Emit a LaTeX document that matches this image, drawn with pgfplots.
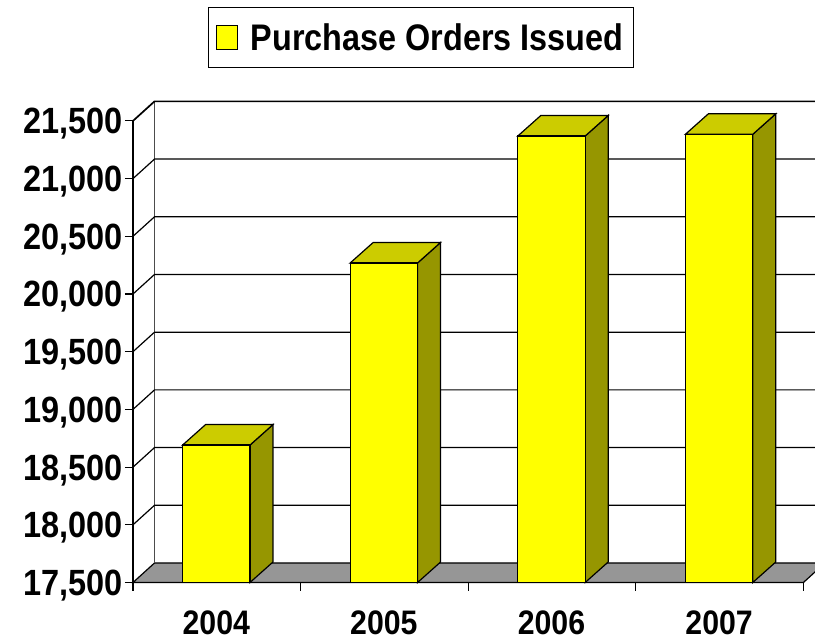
\documentclass[border=0pt]{standalone}
\usepackage{pgfplots}
\pgfplotsset{compat=1.18}
\usepackage{fontspec}
\setmainfont{Liberation Sans}
\newfontfamily\tickf[FakeStretch=0.89]{Liberation Sans}
\newfontfamily\legf[FakeStretch=0.875]{Liberation Sans}
\definecolor{barc}{HTML}{FFFF00}
\definecolor{sidec}{HTML}{969600}
\definecolor{topc}{HTML}{CCCC00}
\definecolor{floorc}{HTML}{969696}
\begin{document}
\begin{tikzpicture}[x=1pt,y=1pt]
\useasboundingbox (0,0) rectangle (815,643);
\begin{axis}[
  at={(133pt,60.5pt)}, anchor=south west,
  scale only axis, width=682pt, height=482.5pt,
  xmin=0, xmax=4.0692, ymin=17500, ymax=21681.1,
  clip=false,
  axis line style={draw=none},
  xtick pos=bottom, ytick pos=left,
  scaled y ticks=false,
  xtick={0,1,2,3,4}, xticklabels={,,,,},
  extra x ticks={0.5,1.5,2.5,3.5},
  extra x tick labels={2004,2005,2006,2007},
  extra x tick style={major tick length=0pt, xticklabel style={yshift=-24.5pt, xshift=-0.5pt, font=\tickf\fontsize{34}{34}\selectfont\bfseries}},
  ytick={17500,18000,18500,19000,19500,20000,20500,21000,21500},
  tick align=outside, major tick length=8pt,
  every tick/.style={black, line width=1.1pt},
  tick label style={font=\tickf\fontsize{36.5}{36.5}\selectfont\bfseries},
  yticklabel style={xshift=1pt, yshift=-3pt, /pgf/number format/fixed},
  /pgf/number format/.cd, 1000 sep={,}, assume math mode=true,
  /pgfplots/.cd,
  legend style={at={(0.4219,1.129)}, anchor=center, draw=black, line width=1pt,
    font=\legf\fontsize{37}{37}\selectfont\bfseries, inner xsep=8pt, inner ysep=14pt,
    /tikz/every even column/.append style={column sep=0pt}},
  legend image code/.code={\draw[fill=barc,draw=black,line width=1pt] (0pt,-12.2pt) rectangle (20.6pt,12.2pt);},
]
% floor
\addplot[forget plot, fill=floorc, draw=black, line width=1.2pt] coordinates {(0,17500) (4,17500) (4.1283,17669) (0.1283,17669)} -- cycle;
% walls
\addplot[forget plot, black, line width=1.1pt] coordinates {(0,17500) (0,21500)};
\addplot[forget plot, black!70, line width=1.1pt] coordinates {(0.1283,17669) (0.1283,21669)};
% grid
\addplot[forget plot, black, line width=1.2pt] coordinates {(0,18000) (0.1283,18169) (4.2,18169)};
\addplot[forget plot, black, line width=1.2pt] coordinates {(0,18500) (0.1283,18669) (4.2,18669)};
\addplot[forget plot, black, line width=1.2pt] coordinates {(0,19000) (0.1283,19169) (4.2,19169)};
\addplot[forget plot, black, line width=1.2pt] coordinates {(0,19500) (0.1283,19669) (4.2,19669)};
\addplot[forget plot, black, line width=1.2pt] coordinates {(0,20000) (0.1283,20169) (4.2,20169)};
\addplot[forget plot, black, line width=1.2pt] coordinates {(0,20500) (0.1283,20669) (4.2,20669)};
\addplot[forget plot, black, line width=1.2pt] coordinates {(0,21000) (0.1283,21169) (4.2,21169)};
\addplot[forget plot, black, line width=1.7pt] coordinates {(0,21500) (0.1283,21669) (4.2,21669)};
% base line
\addplot[forget plot, black, line width=1.8pt] coordinates {(0,17500) (4,17500)};
% side faces
\addplot[forget plot, fill=sidec, draw=black, line width=1.2pt] coordinates {(0.698,17500) (0.8352,17677.6) (0.8352,18868.6) (0.698,18691)} -- cycle;
\addplot[forget plot, fill=sidec, draw=black, line width=1.2pt] coordinates {(1.698,17500) (1.8352,17677.6) (1.8352,20446.6) (1.698,20269)} -- cycle;
\addplot[forget plot, fill=sidec, draw=black, line width=1.2pt] coordinates {(2.698,17500) (2.8352,17677.6) (2.8352,21546.6) (2.698,21369)} -- cycle;
\addplot[forget plot, fill=sidec, draw=black, line width=1.2pt] coordinates {(3.698,17500) (3.8352,17677.6) (3.8352,21561.6) (3.698,21384)} -- cycle;
% top faces
\addplot[forget plot, fill=topc, draw=black, line width=1.2pt] coordinates {(0.296,18691) (0.698,18691) (0.8352,18868.6) (0.4332,18868.6)} -- cycle;
\addplot[forget plot, fill=topc, draw=black, line width=1.2pt] coordinates {(1.296,20269) (1.698,20269) (1.8352,20446.6) (1.4332,20446.6)} -- cycle;
\addplot[forget plot, fill=topc, draw=black, line width=1.2pt] coordinates {(2.296,21369) (2.698,21369) (2.8352,21546.6) (2.4332,21546.6)} -- cycle;
\addplot[forget plot, fill=topc, draw=black, line width=1.2pt] coordinates {(3.296,21384) (3.698,21384) (3.8352,21561.6) (3.4332,21561.6)} -- cycle;
% front faces
\addplot[ybar, bar shift=0pt, bar width=0.402, fill=barc, draw=black, line width=1.2pt] coordinates {(0.497,18691) (1.497,20269) (2.497,21369) (3.497,21384)};
\addlegendentry{\hspace{11pt}Purchase Orders Issued}
\end{axis}
\end{tikzpicture}
\end{document}
